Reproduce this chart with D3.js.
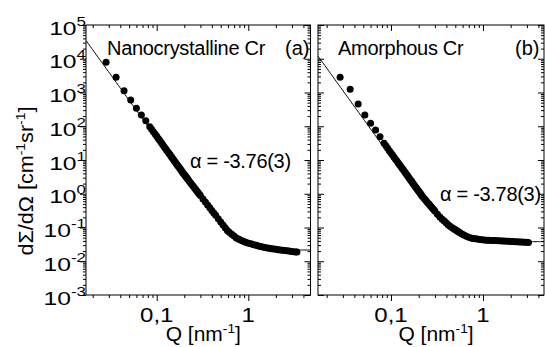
<!DOCTYPE html>
<html>
<head>
<meta charset="utf-8">
<script src="https://cdn.jsdelivr.net/npm/d3@7"></script>
<style>
body { margin: 0; background: #fff; }
svg { display: block; }
text { font-family: "Liberation Sans", Arial, sans-serif; fill: #000; }
</style>
</head>
<body>
<script>
// (a) nanocrystalline Cr : Q [nm^-1] and dSigma/dOmega [cm^-1 sr^-1]
const qA = [0.028, 0.036, 0.044, 0.052, 0.060, 0.068, 0.076, 0.084,
    0.088, 0.092, 0.096, 0.100, 0.104, 0.108, 0.112, 0.116, 0.120, 0.124, 0.128, 0.132, 0.136, 0.140, 0.144, 0.148,
    0.152, 0.156, 0.160, 0.164, 0.168, 0.172, 0.176, 0.180, 0.184, 0.188, 0.192, 0.196, 0.200, 0.204, 0.208, 0.212, 0.216, 0.220,
    0.228, 0.236, 0.244, 0.252, 0.260, 0.268, 0.276, 0.284, 0.292, 0.300,
    0.32, 0.34, 0.36, 0.38, 0.40, 0.42, 0.44,
    0.47, 0.50, 0.53, 0.56, 0.59, 0.62, 0.66, 0.70, 0.74, 0.78, 0.82, 0.87, 0.92, 0.97,
    1.03, 1.09, 1.15, 1.22, 1.29, 1.36, 1.44, 1.52, 1.61, 1.70, 1.80, 1.90, 2.01, 2.12, 2.24, 2.37, 2.50, 2.64, 2.79, 2.95, 3.12, 3.30, 3.40];
const iA = [7850, 2820, 1130, 600, 340, 215, 146, 97,
    81.8, 68.9, 58.5, 50.4, 43.4, 37.6, 33.0, 28.8, 25.3, 22.4, 19.9, 17.7, 15.9, 14.2, 12.8, 11.5,
    10.35, 9.41, 8.55, 7.77, 7.16, 6.51, 5.95, 5.49, 5.02, 4.66, 4.29, 3.95, 3.69, 3.45, 3.23, 3.01, 2.83, 2.64,
    2.32, 2.05, 1.83, 1.65, 1.46, 1.32, 1.18, 1.07, 0.970, 0.887,
    0.704, 0.570, 0.464, 0.384, 0.319, 0.269, 0.230,
    0.181, 0.1466, 0.1194, 0.098, 0.0815, 0.0726, 0.0633, 0.0556, 0.0492, 0.0456, 0.0429, 0.0398, 0.0374, 0.0352,
    0.0336, 0.0322, 0.0309, 0.0297, 0.0285, 0.0274, 0.0263, 0.0254, 0.0249, 0.0242, 0.0235, 0.0231, 0.0225, 0.0220, 0.0215, 0.0211, 0.0207, 0.0203, 0.0200, 0.0196, 0.0192, 0.0188, 0.0187];

// (b) amorphous Cr
const qB = [0.028, 0.036, 0.044, 0.052, 0.060, 0.068, 0.076, 0.084,
    0.088, 0.092, 0.096, 0.100, 0.104, 0.108, 0.112, 0.116, 0.120, 0.124, 0.128, 0.132, 0.136, 0.140, 0.144, 0.148,
    0.152, 0.156, 0.160, 0.164, 0.168, 0.172, 0.176, 0.180, 0.184, 0.188, 0.192, 0.196, 0.200, 0.204, 0.208, 0.212, 0.216, 0.220,
    0.228, 0.236, 0.244, 0.252, 0.260, 0.268, 0.276, 0.284, 0.292, 0.300,
    0.32, 0.34, 0.36, 0.38, 0.40, 0.42, 0.44,
    0.47, 0.50, 0.53, 0.56, 0.59, 0.62, 0.66, 0.70, 0.74, 0.78, 0.82, 0.87, 0.92, 0.97,
    1.03, 1.09, 1.15, 1.22, 1.29, 1.36, 1.44, 1.52, 1.61, 1.70, 1.80, 1.90, 2.01, 2.12, 2.24, 2.37, 2.50, 2.64, 2.79, 2.95, 3.12];
const iB = [2820, 1245, 456, 215, 122, 77.4, 49.0, 31.2,
    26.4, 22.2, 18.9, 16.2, 14.0, 12.1, 10.6, 9.28, 8.15, 7.21, 6.42, 5.71, 5.12, 4.56, 4.12, 3.69,
    3.33, 3.03, 2.75, 2.50, 2.31, 2.10, 1.92, 1.77, 1.62, 1.50, 1.38, 1.28, 1.18, 1.10, 1.03, 0.950, 0.894, 0.829,
    0.738, 0.659, 0.593, 0.536, 0.485, 0.440, 0.400, 0.366, 0.335, 0.3065,
    0.249, 0.206, 0.177, 0.155, 0.135, 0.119, 0.108,
    0.0960, 0.0867, 0.0782, 0.0711, 0.0646, 0.0600, 0.0552, 0.0513, 0.0489, 0.0475, 0.0466, 0.0453, 0.0443, 0.0432,
    0.0425, 0.0421, 0.0418, 0.0415, 0.0412, 0.0409, 0.0406, 0.0402, 0.0400, 0.0395, 0.0393, 0.0390, 0.0386, 0.0382, 0.0379, 0.0376, 0.0373, 0.0369, 0.0366, 0.0363, 0.0360];

// fitted curves  I = amp * Q^alpha + bg
const fitA = { amp: 0.00755, alpha: -3.76, bg: 0.0215 };
const fitB = { amp: 0.0020, alpha: -3.78, bg: 0.038 };

const yExponents = [-3, -2, -1, 0, 1, 2, 3, 4, 5];
const xTickVals = [0.1, 1];
const xTickLabels = ["0,1", "1"];

const width = 545, height = 347;
const yTop = 25, yBottom = 295;

const svg = d3.select("body").append("svg")
    .attr("width", width)
    .attr("height", height);

const y = d3.scaleLog().domain([1e-3, 1e5]).range([yBottom, yTop]);

const panels = [
    { q: qA, i: iA, fit: fitA, id: "a",
      x: d3.scaleLog().domain([0.0169, 4.78]).range([86, 310.5]),
      title: "Nanocrystalline Cr", tag: "(a)", alpha: "\u03b1 = -3.76(3)",
      titleX: 107, tagX: 285, alphaX: 190, alphaY: 168, yLabels: true },
    { q: qB, i: iB, fit: fitB, id: "b",
      x: d3.scaleLog().domain([0.0161, 4.6]).range([318, 544]),
      title: "Amorphous Cr", tag: "(b)", alpha: "\u03b1 = -3.78(3)",
      titleX: 338, tagX: 515, alphaX: 440, alphaY: 201, yLabels: false }
];

function minorTicks(lo, hi) {
    const out = [];
    for (let e = Math.floor(Math.log10(lo)); e <= Math.ceil(Math.log10(hi)); e++) {
        for (let k = 2; k <= 9; k++) {
            const v = k * Math.pow(10, e);
            if (v > lo && v < hi) out.push(v);
        }
    }
    return out;
}

const yMajor = yExponents.map(e => Math.pow(10, e));
const yMinor = minorTicks(1e-3, 1e5);

function addAxis(axis, tx, ty) {
    const g = svg.append("g")
        .attr("transform", `translate(${tx},${ty})`)
        .call(axis.tickFormat("").tickSizeOuter(0));
    g.select(".domain").remove();
    g.selectAll("line").attr("stroke", "#000").attr("stroke-width", 1);
    return g;
}

panels.forEach(p => {
    const x = p.x;
    const [x0, x1] = x.range();
    const xMinor = minorTicks(x.domain()[0], x.domain()[1]);

    // bottom: outward ticks
    addAxis(d3.axisBottom(x).tickValues(xTickVals).tickSize(6), 0, yBottom);
    addAxis(d3.axisBottom(x).tickValues(xMinor).tickSize(3), 0, yBottom);
    // top: inward ticks
    addAxis(d3.axisTop(x).tickValues(xTickVals).tickSize(-6), 0, yTop);
    addAxis(d3.axisTop(x).tickValues(xMinor).tickSize(-3), 0, yTop);
    // left
    const inL = p.yLabels ? 1 : -1;
    addAxis(d3.axisLeft(y).tickValues(yMajor).tickSize(6 * inL), x0, 0);
    addAxis(d3.axisLeft(y).tickValues(yMinor).tickSize(3 * inL), x0, 0);
    // right: inward
    addAxis(d3.axisRight(y).tickValues(yMajor).tickSize(-6), x1, 0);
    addAxis(d3.axisRight(y).tickValues(yMinor).tickSize(-3), x1, 0);

    svg.append("rect")
        .attr("x", x0).attr("y", yTop)
        .attr("width", x1 - x0).attr("height", yBottom - yTop)
        .attr("fill", "none").attr("stroke", "#000").attr("stroke-width", 1);

    svg.append("clipPath").attr("id", "clip-" + p.id)
        .append("rect")
        .attr("x", x0).attr("y", yTop)
        .attr("width", x1 - x0).attr("height", yBottom - yTop);

    // fit curve
    const lq0 = Math.log10(x.domain()[0]), lq1 = Math.log10(x.domain()[1]);
    const fitQ = d3.range(0, 201).map(k => Math.pow(10, lq0 + (lq1 - lq0) * k / 200));
    const line = d3.line()
        .x(q => x(q))
        .y(q => y(p.fit.amp * Math.pow(q, p.fit.alpha) + p.fit.bg));
    svg.append("path")
        .datum(fitQ)
        .attr("clip-path", `url(#clip-${p.id})`)
        .attr("d", line)
        .attr("fill", "none")
        .attr("stroke", "#000")
        .attr("stroke-width", 1);

    // measured points
    svg.append("g")
        .selectAll("circle")
        .data(p.q.map((q, k) => [q, p.i[k]]))
        .join("circle")
        .attr("cx", d => x(d[0]))
        .attr("cy", d => y(d[1]))
        .attr("r", 3.5)
        .attr("fill", "#000");

    // x tick labels
    xTickVals.forEach((v, k) => {
        svg.append("text")
            .attr("transform", `translate(${x(v)},322) scale(1.2,1)`)
            .attr("text-anchor", "middle")
            .style("font-size", "20px")
            .text(xTickLabels[k]);
    });

    // x title
    const xt = svg.append("text")
        .attr("transform", `translate(${(x0 + x1) / 2 + 5},341) scale(1.05,1)`)
        .attr("text-anchor", "middle")
        .style("font-size", "20px");
    xt.append("tspan").text("Q [nm");
    xt.append("tspan").attr("dy", -8).style("font-size", "13px").text("-1");
    xt.append("tspan").attr("dy", 8).text("]");

    svg.append("text").attr("x", p.titleX).attr("y", 55)
        .style("font-size", "20px").style("letter-spacing", "-0.3px").text(p.title);
    svg.append("text").attr("x", p.tagX).attr("y", 55)
        .style("font-size", "20px").text(p.tag);
    svg.append("text").attr("x", p.alphaX).attr("y", p.alphaY)
        .style("font-size", "20px").style("letter-spacing", "-0.3px").text(p.alpha);

    if (p.yLabels) {
        yExponents.forEach(e => {
            const t = svg.append("text")
                .attr("transform", `translate(${x0},${y(Math.pow(10, e)) + 9.5}) scale(1.3,1)`)
                .attr("text-anchor", "end")
                .style("font-size", "19px");
            t.append("tspan").text("10");
            t.append("tspan").attr("dy", -9).style("font-size", "13px").text(e);
        });
    }
});

// y title
const yt = svg.append("text")
    .attr("transform", "translate(33,181) rotate(-90) scale(1.08,1)")
    .attr("text-anchor", "middle")
    .style("font-size", "20px");
yt.append("tspan").text("d\u03a3/d\u03a9 [cm");
yt.append("tspan").attr("dy", -8).style("font-size", "13px").text("-1");
yt.append("tspan").attr("dy", 8).text("sr");
yt.append("tspan").attr("dy", -8).style("font-size", "13px").text("-1");
yt.append("tspan").attr("dy", 8).text("]");
</script>
</body>
</html>
